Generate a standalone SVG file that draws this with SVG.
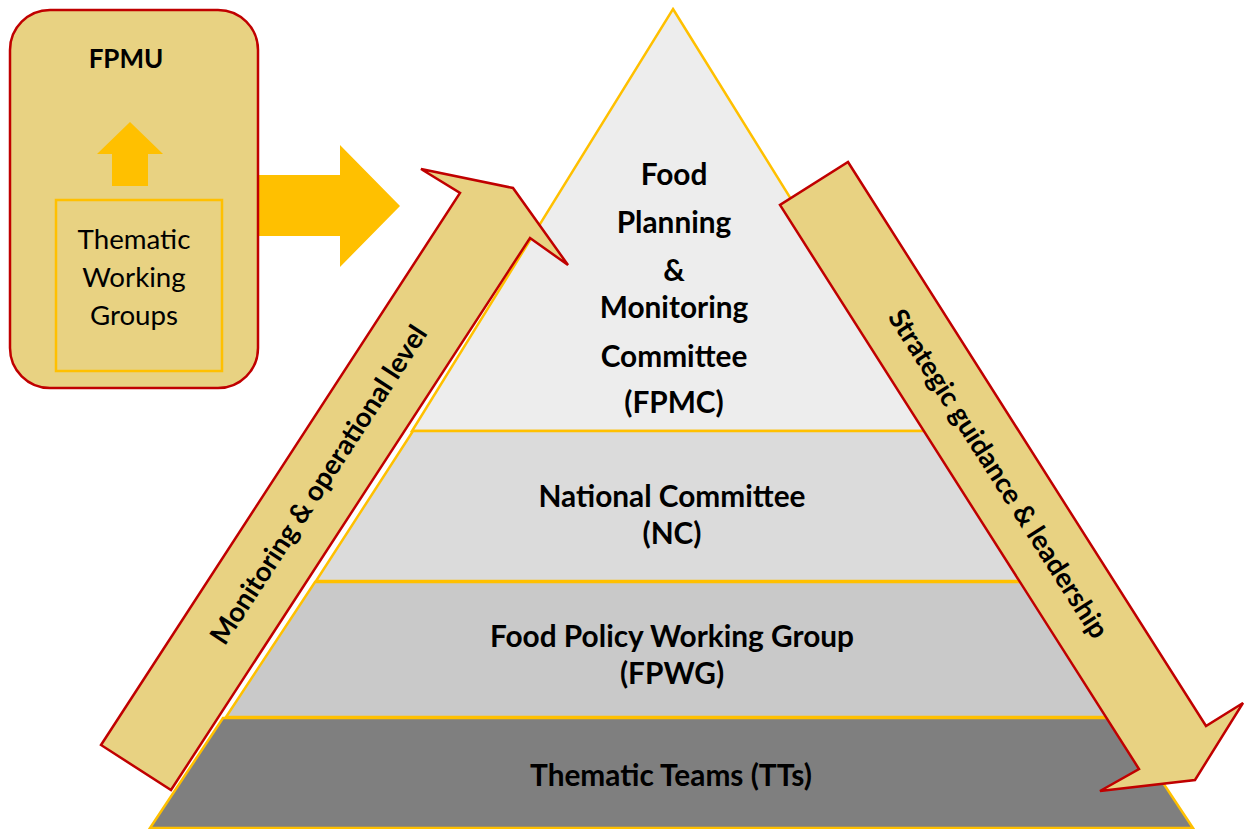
<svg xmlns="http://www.w3.org/2000/svg" width="1244" height="829" viewBox="0 0 1244 829">
  <style>
    .layer { stroke: #FFC000; stroke-width: 2.5; stroke-linejoin: miter; }
    .band { fill: #E8D282; stroke: #C00000; stroke-width: 2.5; stroke-linejoin: miter; }
    .flow { fill: #FFC000; }
    .lbl { font-family: "Lato", "Liberation Sans", sans-serif; font-weight: bold; fill: #000; text-anchor: middle; }
    .big { font-size: 29.8px; }
    .side { font-size: 27.5px; }
    .plain { font-family: "Lato", "Liberation Sans", sans-serif; font-size: 27.7px; fill: #000; text-anchor: middle; }
  </style>

  <!-- pyramid tiers, top to bottom -->
  <g id="fpmc">
    <polygon class="layer" fill="#EDEDED" points="673,9 935,431 412,431"/>
    <text class="lbl big" x="674" y="185">Food</text>
    <text class="lbl big" x="674" y="233">Planning</text>
    <text class="lbl big" x="674" y="281">&amp;</text>
    <text class="lbl big" x="674" y="318">Monitoring</text>
    <text class="lbl big" x="674" y="367">Committee</text>
    <text class="lbl big" x="674" y="413">(FPMC)</text>
  </g>
  <g id="nc">
    <polygon class="layer" fill="#DBDBDB" points="413,431 931,431 1028,581 316,581"/>
    <text class="lbl big" x="672" y="507">National Committee</text>
    <text class="lbl big" x="672" y="544">(NC)</text>
  </g>
  <g id="fpwg">
    <polygon class="layer" fill="#C9C9C9" points="315,582 1029,582 1118,717 226,717"/>
    <text class="lbl big" x="672" y="647">Food Policy Working Group</text>
    <text class="lbl big" x="672" y="684">(FPWG)</text>
  </g>
  <g id="tt">
    <polygon class="layer" fill="#7F7F7F" points="223,718 1120,718 1193,828 150,828"/>
    <text class="lbl big" x="671" y="786">Thematic Teams (TTs)</text>
  </g>

  <!-- side bands -->
  <g id="monitoring-band">
    <polygon class="band" points="101,745 460,193 421,169 513,188 568,265 530,238 171,790"/>
    <text class="lbl side" transform="translate(319,485) rotate(-57)" x="0" y="9">Monitoring &amp; operational level</text>
  </g>
  <g id="strategic-band">
    <polygon class="band" points="848,162 1206,726 1243,703 1195,780 1100,791 1139,769 780,205"/>
    <text class="lbl side" transform="translate(998,474) rotate(57.5)" x="0" y="9">Strategic guidance &amp; leadership</text>
  </g>

  <!-- connectors -->
  <g id="connectors">
    <polygon class="flow" points="259,175 340,175 340,145 400,206 340,267 340,236 259,236"/>
  </g>

  <!-- FPMU unit -->
  <g id="fpmu">
    <rect x="10" y="10" width="248" height="378" rx="40" ry="40" fill="#E8D282" stroke="#C00000" stroke-width="2.5"/>
    <text class="lbl" style="font-size:26px" x="126" y="68">FPMU</text>
    <polygon class="flow" points="130,122 163,154 148,154 148,186 112,186 112,154 97,154"/>
  </g>
  <g id="thematic-working-groups">
    <rect x="56" y="200" width="166" height="171" fill="none" stroke="#FFC000" stroke-width="2.5"/>
    <text class="plain" x="134" y="249">Thematic</text>
    <text class="plain" x="134" y="287">Working</text>
    <text class="plain" x="134" y="325">Groups</text>
  </g>
</svg>
